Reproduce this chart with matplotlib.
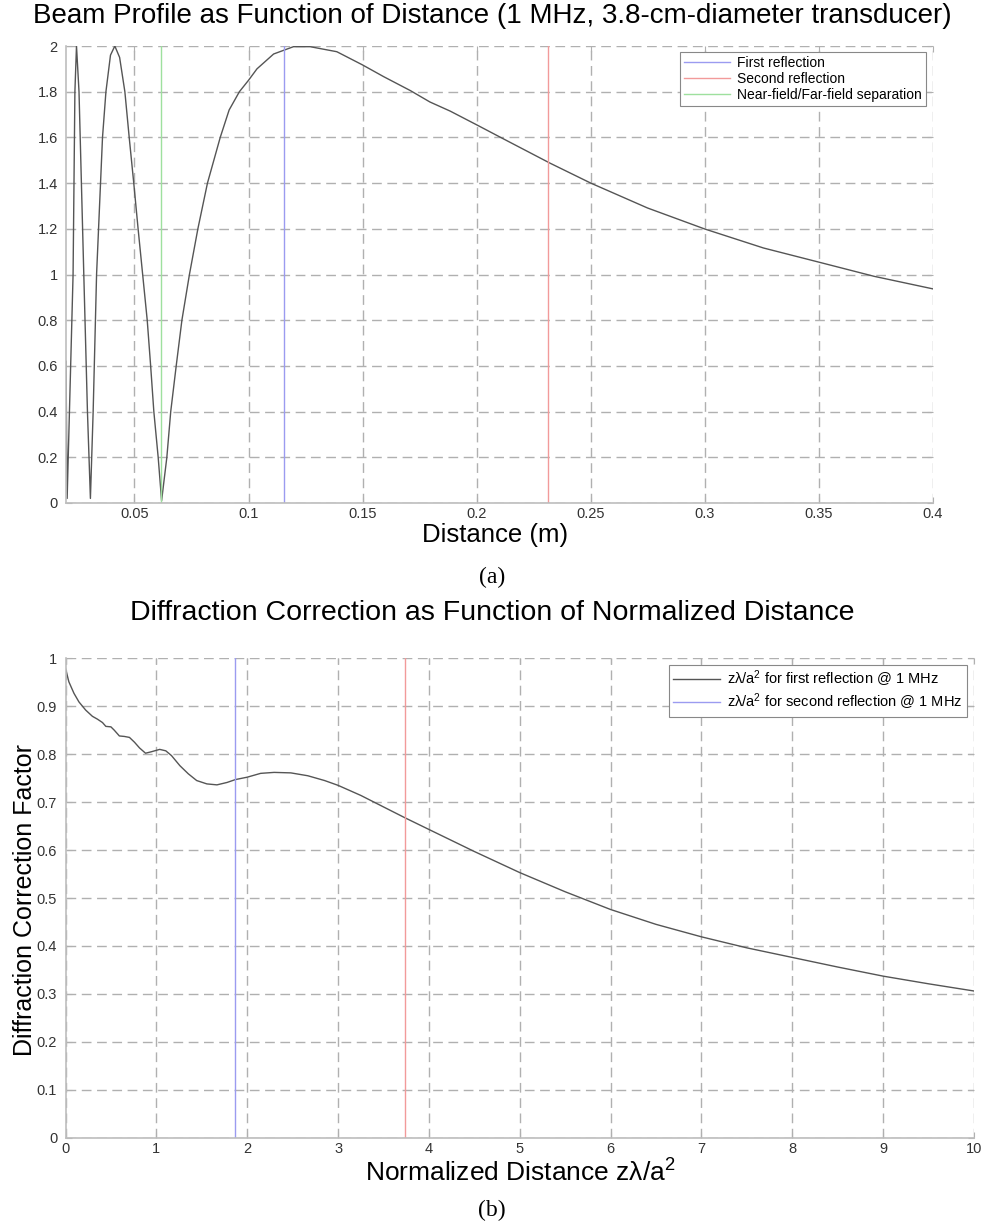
import matplotlib
matplotlib.use('Agg')
import matplotlib.pyplot as plt
from matplotlib.ticker import FuncFormatter

plt.rcParams['font.family'] = ['Liberation Sans', 'DejaVu Sans']
plt.rcParams['mathtext.default'] = 'regular'

# beam profile (top)
dist_m = [0.0200, 0.0205, 0.0231, 0.0239, 0.0246, 0.0257, 0.0278, 0.0294, 0.0307,
          0.0319, 0.0334, 0.0360, 0.0375, 0.0395, 0.0414, 0.0435, 0.0458, 0.0477,
          0.0497, 0.0516, 0.0536, 0.0556, 0.0571, 0.0585, 0.0604, 0.0619,
          0.0642, 0.0659, 0.0683, 0.0708, 0.0741, 0.0778, 0.0820, 0.0876, 0.0915,
          0.0960, 0.1000, 0.1037, 0.1110, 0.1197, 0.1270, 0.1387, 0.1500, 0.1592,
          0.1709, 0.1795, 0.1884, 0.2000, 0.2103, 0.2322, 0.2500, 0.2749, 0.3000,
          0.3257, 0.3500, 0.3742, 0.4000]
beam_amp = [0.62, 0.02, 1.00, 1.80, 2.00, 1.80, 1.00, 0.40, 0.02,
            0.40, 1.00, 1.60, 1.80, 1.96, 2.00, 1.95, 1.80, 1.60,
            1.40, 1.20, 1.00, 0.80, 0.60, 0.40, 0.20, 0.01,
            0.20, 0.40, 0.60, 0.80, 1.00, 1.20, 1.40, 1.60, 1.72,
            1.80, 1.85, 1.90, 1.965, 1.997, 1.997, 1.975, 1.917, 1.866,
            1.805, 1.755, 1.715, 1.655, 1.601, 1.487, 1.400, 1.291, 1.199,
            1.116, 1.054, 0.992, 0.937]

first_refl_m = 0.1157
second_refl_m = 0.2314
nearfield_m = 0.0618

# diffraction correction (bottom)
norm_dist = [0.0, 0.037, 0.093, 0.148, 0.222, 0.296, 0.352, 0.407, 0.444, 0.5,
             0.537, 0.593, 0.648, 0.704, 0.759, 0.815, 0.881, 0.944, 1.037, 1.104,
             1.167, 1.259, 1.352, 1.444, 1.556, 1.667, 1.778, 1.87, 2.0, 2.148,
             2.296, 2.48, 2.667, 2.852, 3.0, 3.25, 3.5, 3.74, 4.0, 4.5,
             5.0, 5.5, 6.0, 6.5, 7.0, 7.5, 8.0, 8.5, 9.0, 9.5, 10.0]
diff_corr = [0.979, 0.951, 0.927, 0.909, 0.892, 0.879, 0.873, 0.866, 0.858, 0.857,
             0.850, 0.838, 0.837, 0.835, 0.825, 0.813, 0.802, 0.805, 0.810, 0.807,
             0.797, 0.776, 0.759, 0.745, 0.738, 0.736, 0.741, 0.747, 0.752, 0.760,
             0.762, 0.761, 0.755, 0.745, 0.735, 0.714, 0.690, 0.667, 0.643, 0.597,
             0.553, 0.513, 0.476, 0.445, 0.419, 0.396, 0.376, 0.356, 0.337, 0.321,
             0.306]

first_refl_n = 1.87
second_refl_n = 3.74

dist_ticks = [0.05, 0.1, 0.15, 0.2, 0.25, 0.3, 0.35, 0.4]
amp_ticks = [0, 0.2, 0.4, 0.6, 0.8, 1, 1.2, 1.4, 1.6, 1.8, 2]
n_ticks = list(range(0, 11))
corr_ticks = [0, 0.1, 0.2, 0.3, 0.4, 0.5, 0.6, 0.7, 0.8, 0.9, 1]

curve_col = '#555555'
grid_col = '#b0b0b0'
spine_col = '#bdbdbd'
lbl_col = '#333333'


def style_axes(ax):
    ax.grid(True, color=grid_col, linestyle=(0, (7, 4)), linewidth=1.0)
    for s in ['top', 'right']:
        ax.spines[s].set_visible(False)
    for s in ['left', 'bottom']:
        ax.spines[s].set_color(spine_col)
        ax.spines[s].set_linewidth(1.2)
    ax.tick_params(direction='in', length=4, width=0.8, color=grid_col,
                   top=True, right=True, labelsize=10.5, labelcolor=lbl_col)
    ax.tick_params(axis='x', pad=3)
    ax.tick_params(axis='y', pad=6)
    ax.xaxis.set_major_formatter(FuncFormatter(lambda v, p: '%g' % v))
    ax.yaxis.set_major_formatter(FuncFormatter(lambda v, p: '%g' % v))


def style_legend(leg):
    leg.get_frame().set_edgecolor('#888888')
    leg.get_frame().set_linewidth(0.8)
    leg.get_frame().set_alpha(1)


fig = plt.figure(figsize=(9.84, 12.3), dpi=100)

# (a)
ax1 = fig.add_axes([66/984, 1 - 503/1230, 867/984, 457/1230])
ax1.plot(dist_m, beam_amp, color=curve_col, linewidth=1.0)
ax1.axvline(first_refl_m, color='#9b9bf0', linewidth=1.0, label='First reflection')
ax1.axvline(second_refl_m, color='#f29a9a', linewidth=1.0, label='Second reflection')
ax1.axvline(nearfield_m, color='#9ee09e', linewidth=1.0, label='Near-field/Far-field separation')
ax1.set_xlim(0.02, 0.4)
ax1.set_ylim(0, 2)
ax1.set_xticks(dist_ticks)
ax1.set_yticks(amp_ticks)
style_axes(ax1)
leg1 = ax1.legend(loc='upper right', fontsize=10, frameon=True, fancybox=False,
                  borderpad=0.3, labelspacing=0.15, handlelength=3.3,
                  handletextpad=0.5, borderaxespad=0,
                  bbox_to_anchor=(0.992, 0.987))
style_legend(leg1)

fig.text(492/984, 1 - 16/1230, 'Beam Profile as Function of Distance (1 MHz, 3.8-cm-diameter transducer)',
         ha='center', va='center', fontsize=20)
fig.text(495/984, 1 - 535/1230, 'Distance (m)', ha='center', va='center', fontsize=18.5)
fig.text(492/984, 1 - 577/1230, '(a)', ha='center', va='center', fontsize=17,
         family=['Liberation Serif', 'DejaVu Serif'])

# (b)
ax2 = fig.add_axes([65.5/984, 1 - 1137.7/1230, 908.5/984, 479.4/1230])
ax2.plot(norm_dist, diff_corr, color=curve_col, linewidth=1.0,
         label='z\u03bb/a$^2$ for first reflection @ 1 MHz')
ax2.axvline(first_refl_n, color='#9b9bf0', linewidth=1.0,
            label='z\u03bb/a$^2$ for second reflection @ 1 MHz')
ax2.axvline(second_refl_n, color='#f29a9a', linewidth=1.0)
ax2.set_xlim(0, 10)
ax2.set_ylim(0, 1)
ax2.set_xticks(n_ticks)
ax2.set_yticks(corr_ticks)
style_axes(ax2)
leg2 = ax2.legend(loc='upper right', fontsize=10.5, frameon=True, fancybox=False,
                  borderpad=0.3, labelspacing=0.15, handlelength=3.2,
                  handletextpad=0.5, borderaxespad=0,
                  bbox_to_anchor=(0.9925, 0.987))
style_legend(leg2)

fig.text(492/984, 1 - 613/1230, 'Diffraction Correction as Function of Normalized Distance',
         ha='center', va='center', fontsize=20.5)
fig.text(520/984, 1 - 1173/1230, 'Normalized Distance z\u03bb/a$^2$',
         ha='center', va='center', fontsize=19)
fig.text(25/984, 1 - 900/1230, 'Diffraction Correction Factor', ha='center', va='center',
         rotation=90, fontsize=18)
fig.text(492/984, 1 - 1210/1230, '(b)', ha='center', va='center', fontsize=17,
         family=['Liberation Serif', 'DejaVu Serif'])

fig.savefig('out.png', dpi=100)
